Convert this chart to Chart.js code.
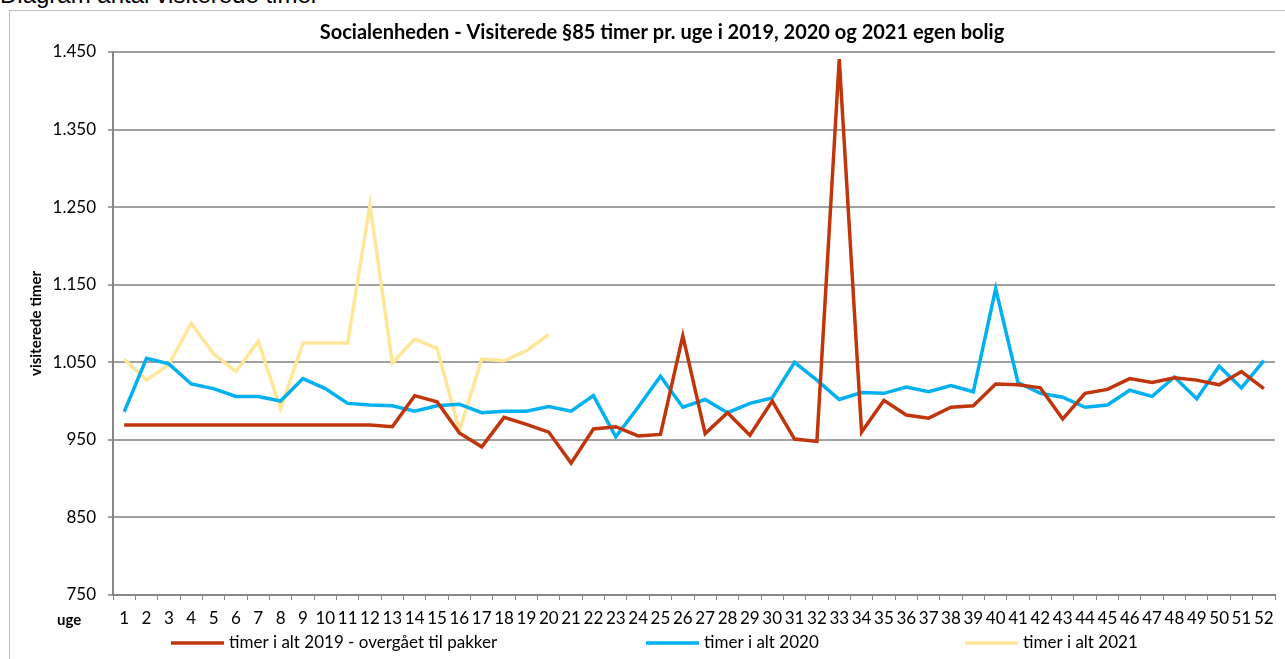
<!DOCTYPE html>
<html>
<head>
<meta charset="utf-8">
<title>Socialenheden - visiterede timer</title>
<script src="https://cdn.jsdelivr.net/npm/chart.js@4.4.1/dist/chart.umd.min.js"></script>
<style>
  html, body { margin: 0; padding: 0; background: #fff; overflow: hidden; }
  #page { position: relative; width: 1285px; height: 659px; }
  #heading {
    position: absolute; left: 0; top: -19px;
    font-family: "Liberation Sans", Arial, sans-serif; font-size: 24px; line-height: 28px; color: #000;
    white-space: nowrap;
  }
  #frame {
    position: absolute; left: 9px; top: 10px; width: 1300px; height: 700px;
    border: 1px solid #bfbfbf;
  }
  #wrap { position: absolute; left: 0; top: 0; width: 1285px; height: 659px; }
</style>
</head>
<body>
<div id="page">
  <div id="frame"></div>
  <div id="heading">Diagram antal visiterede timer</div>
  <div id="wrap"><canvas id="chart"></canvas></div>
</div>

<script>
// uge-numre (x-aksen)
const weeks = ["1","2","3","4","5","6","7","8","9","10","11","12","13","14","15","16","17","18","19","20",
  "21","22","23","24","25","26","27","28","29","30","31","32","33","34","35","36","37","38","39","40",
  "41","42","43","44","45","46","47","48","49","50","51","52"];

// timer pr. uge
const hours2019 = [969, 969, 969, 969, 969, 969, 969, 969, 969, 969, 969, 969, 967, 1007, 999, 959, 941, 979, 970, 960,
  920, 964, 967, 955, 957, 1084, 958, 985, 956, 1000, 951, 948, 1441, 960, 1001, 982, 978, 992, 994, 1022,
  1021, 1017, 977, 1010, 1015, 1029, 1024, 1030, 1027, 1021, 1038, 1016];
const hours2020 = [986, 1055, 1048, 1022, 1016, 1006, 1006, 1000, 1029, 1016, 997, 995, 994, 987, 994, 996, 985, 987, 987, 993,
  987, 1007, 954, 992, 1032, 992, 1002, 985, 997, 1004, 1050, 1027, 1002, 1011, 1010, 1018, 1012, 1020, 1012, 1145,
  1024, 1010, 1005, 992, 995, 1014, 1006, 1031, 1003, 1045, 1017, 1052];
const hours2021 = [1054, 1027, 1047, 1100, 1061, 1038, 1077, 990, 1075, 1075, 1075, 1253, 1049, 1080, 1068, 962, 1054, 1052, 1065, 1086];

const seriesNames = ["timer i alt 2019 - overgået til pakker", "timer i alt 2020", "timer i alt 2021"];
const yTicks = [750, 850, 950, 1050, 1150, 1250, 1350, 1450];

const FONT = 'Lato, "Open Sans", sans-serif';
Chart.defaults.font.family = FONT;
Chart.defaults.color = "#000";

// 1450 -> "1.450"
const fmt = (v) => String(v).replace(/\B(?=(\d{3})+(?!\d))/g, ".");

// title, "uge" label and the legend row, placed like the Excel original
const decor = {
  id: "decor",
  afterDraw(chart) {
    const ctx = chart.ctx;
    ctx.save();
    ctx.fillStyle = "#000";
    ctx.textBaseline = "middle";

    ctx.font = "bold 20px " + FONT;
    ctx.textAlign = "center";
    ctx.fillText("Socialenheden - Visiterede §85 timer pr. uge i 2019, 2020 og 2021 egen bolig", 662, 33);

    ctx.font = "bold 15px " + FONT;
    ctx.textAlign = "left";
    ctx.fillText("uge", 57, 620);

    const legendX = [171, 646, 965];
    ctx.font = "17px " + FONT;
    chart.data.datasets.forEach((ds, i) => {
      const x = legendX[i];
      ctx.strokeStyle = ds.borderColor;
      ctx.lineWidth = 3.5;
      ctx.beginPath();
      ctx.moveTo(x, 643);
      ctx.lineTo(x + 53, 643);
      ctx.stroke();
      ctx.fillText(ds.label, x + 58, 643);
    });
    ctx.restore();
  }
};

new Chart(document.getElementById("chart"), {
  type: "line",
  data: {
    labels: weeks,
    datasets: [
      { label: seriesNames[0], data: hours2019, borderColor: "#C0360A" },
      { label: seriesNames[1], data: hours2020, borderColor: "#00B0F0" },
      { label: seriesNames[2], data: hours2021, borderColor: "#FFE699" },
    ],
  },
  options: {
    responsive: true,
    maintainAspectRatio: false,
    animation: false,
    layout: { padding: { top: 52, right: 10, left: 0, bottom: 0 } },
    elements: {
      line: { borderWidth: 3.5, tension: 0 },
      point: { radius: 0, hoverRadius: 0 },
    },
    plugins: {
      legend: { display: false },
      tooltip: { enabled: false },
      title: { display: false },
    },
    scales: {
      x: {
        offset: true,
        afterFit: (scale) => { scale.height = 64; },
        grid: { drawOnChartArea: false, drawTicks: true, tickLength: 5, color: "#868686", offset: true },
        border: { display: true, color: "#868686", width: 2 },
        ticks: { autoSkip: false, maxRotation: 0, padding: 8, font: { size: 17 } },
      },
      y: {
        min: 750,
        max: 1450,
        afterFit: (scale) => { scale.width = 113; },
        afterBuildTicks: (scale) => { scale.ticks = yTicks.map((v) => ({ value: v })); },
        grid: { color: "#a0a0a0", lineWidth: 2, tickLength: 5 },
        border: { display: true, color: "#868686", width: 2 },
        ticks: { padding: 12, font: { size: 17 }, callback: (v) => fmt(v) },
        title: { display: true, text: "visiterede timer", font: { size: 15, weight: "bold" }, padding: { top: 27 } },
      },
    },
  },
  plugins: [decor],
});
</script>
</body>
</html>
